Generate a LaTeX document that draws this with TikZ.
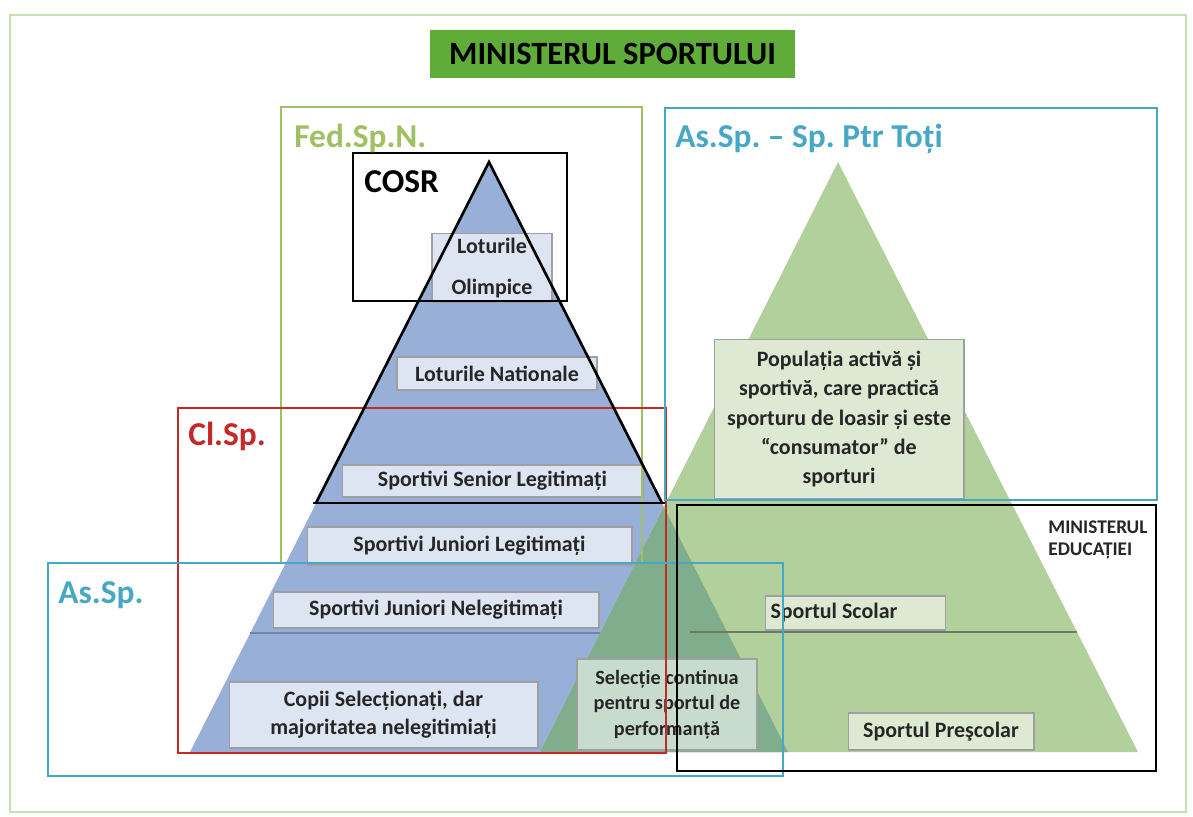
\documentclass[tikz,border=0pt]{standalone}
\usepackage{fontspec}
\setmainfont{Carlito}
\usetikzlibrary{positioning}
\frenchspacing

\definecolor{titlegreen}{RGB}{96,172,56}
\definecolor{fedgreen}{RGB}{160,192,100}
\definecolor{frameteal}{RGB}{70,168,196}
\definecolor{framered}{RGB}{196,40,40}
\definecolor{outergreen}{RGB}{200,224,178}
\definecolor{pyrblue}{RGB}{152,176,216}
\definecolor{pyrgreen}{RGB}{178,208,156}
\definecolor{pyrmix}{RGB}{128,174,140}
\definecolor{lblblue}{RGB}{222,229,242}
\definecolor{lblgreen}{RGB}{222,233,212}
\definecolor{lblmix}{RGB}{200,220,206}

\tikzset{
  lvlbox/.style={rectangle,draw=gray!75,fill=lblblue,line width=0.6pt,align=center,
    inner sep=1pt,font=\fontsize{12.5}{15}\selectfont\bfseries,text=black!85},
  grnbox/.style={lvlbox,fill=lblgreen},
  frametitle/.style={anchor=base west,inner sep=0pt,font=\fontsize{19}{21}\selectfont\bfseries},
  frame/.style={line width=1.5pt}
}

\begin{document}
\begin{tikzpicture}[x=0.02cm,y=-0.02cm]
  \useasboundingbox (0,0) rectangle (1193,816);

  % outer frame and title
  \draw[outergreen,line width=1.3pt] (10,15) rectangle (1186,812);
  \node[fill=titlegreen,minimum width=7.3cm,minimum height=0.96cm,
    font=\fontsize{18.5}{20}\selectfont\bfseries] (minsp) at (612.5,54) {MINISTERUL SPORTULUI};

  % pyramids
  \fill[pyrblue] (489,162) -- (788,752) -- (190,752) -- cycle;
  \fill[pyrgreen] (838,162) -- (1138,752) -- (540,752) -- cycle;
  \begin{scope}
    \clip (489,162) -- (788,752) -- (190,752) -- cycle;
    \fill[pyrmix] (838,162) -- (1138,752) -- (540,752) -- cycle;
  \end{scope}
  \draw[pyrblue!75!black,line width=0.8pt] (250,633) -- (600,633);
  \draw[pyrgreen!60!black,line width=0.8pt] (690,632) -- (1077,632);

  % levels
  \node[lvlbox,minimum width=2.4cm,minimum height=1.38cm,
    font=\fontsize{12.5}{23}\selectfont\bfseries] (olimp) at (492,268) {Loturile\\Olimpice};
  \node[lvlbox,minimum width=4cm,minimum height=0.66cm] (natl) at (497,373.5) {Loturile Nationale};
  \node[lvlbox,minimum width=6.02cm,minimum height=0.64cm] (senior) at (492.5,481) {Sportivi Senior Legitimați};
  \node[lvlbox,minimum width=6.5cm,minimum height=0.76cm] (junleg) at (469.5,546) {Sportivi Juniori Legitimați};
  \node[lvlbox,minimum width=6.52cm,minimum height=0.72cm] (junneleg) at (436,610) {Sportivi Juniori Nelegitimați};
  \node[lvlbox,minimum width=6.18cm,minimum height=1.32cm,
    font=\fontsize{12.5}{16}\selectfont\bfseries] (copii) at (383.5,715) {Copii Selecționați, dar\\majoritatea nelegitimiați};
  \node[lvlbox,fill=lblmix,minimum width=3.6cm,minimum height=1.82cm,
    font=\fontsize{11.5}{14.5}\selectfont\bfseries] (selectie) at (667,704.5) {Selecție continua\\pentru sportul de\\performanță};

  \node[grnbox,minimum width=5cm,minimum height=3.2cm,
    font=\fontsize{12.5}{16.7}\selectfont\bfseries] (popul) at (839,419)
    {Populația activă și\\sportivă, care practică\\sporturu de loasir și este\\“consumator” de\\sporturi};
  \node[grnbox,text width=3.4cm,align=flush left,inner xsep=0.1cm,minimum height=0.68cm] (scolar) at (855.5,613) {Sportul Scolar};
  \node[grnbox,minimum width=3.72cm,minimum height=0.74cm] (prescolar) at (941,731.5) {Sportul Preşcolar};

  % frames
  \draw[frame,fedgreen,line width=1.3pt] (281,107) rectangle (642,563);
  \draw[frame,black] (353,153) rectangle (567,301);
  \draw[frame,framered] (178,408) rectangle (666,753);
  \draw[frame,frameteal] (48,563) rectangle (783,776);
  \draw[frame,frameteal] (665,108) rectangle (1157,500);
  \draw[frame,black] (677,505) rectangle (1156,771);
  \draw[frame,black] (316,503) -- (489,162) -- (662,503);
  \draw[black,line width=1.2pt] (313,503) -- (665,503);

  % frame titles
  \node[frametitle,text=fedgreen] (fedt) at (294,147) {Fed.Sp.N.};
  \node[frametitle,text=black] (cosrt) at (364,192) {COSR};
  \node[frametitle,text=framered] (clspt) at (188,445) {Cl.Sp.};
  \node[frametitle,text=frameteal] (asspt) at (58,603) {As.Sp.};
  \node[frametitle,text=frameteal] (toti) at (675,147) {As.Sp. – Sp. Ptr Toți};
  \node[anchor=north west,inner sep=0pt,align=left,text=black!85,
    font=\fontsize{11}{12.5}\selectfont\bfseries] (mined) at (1048,520) {MINISTERUL\\EDUCAȚIEI};
\end{tikzpicture}
\end{document}
